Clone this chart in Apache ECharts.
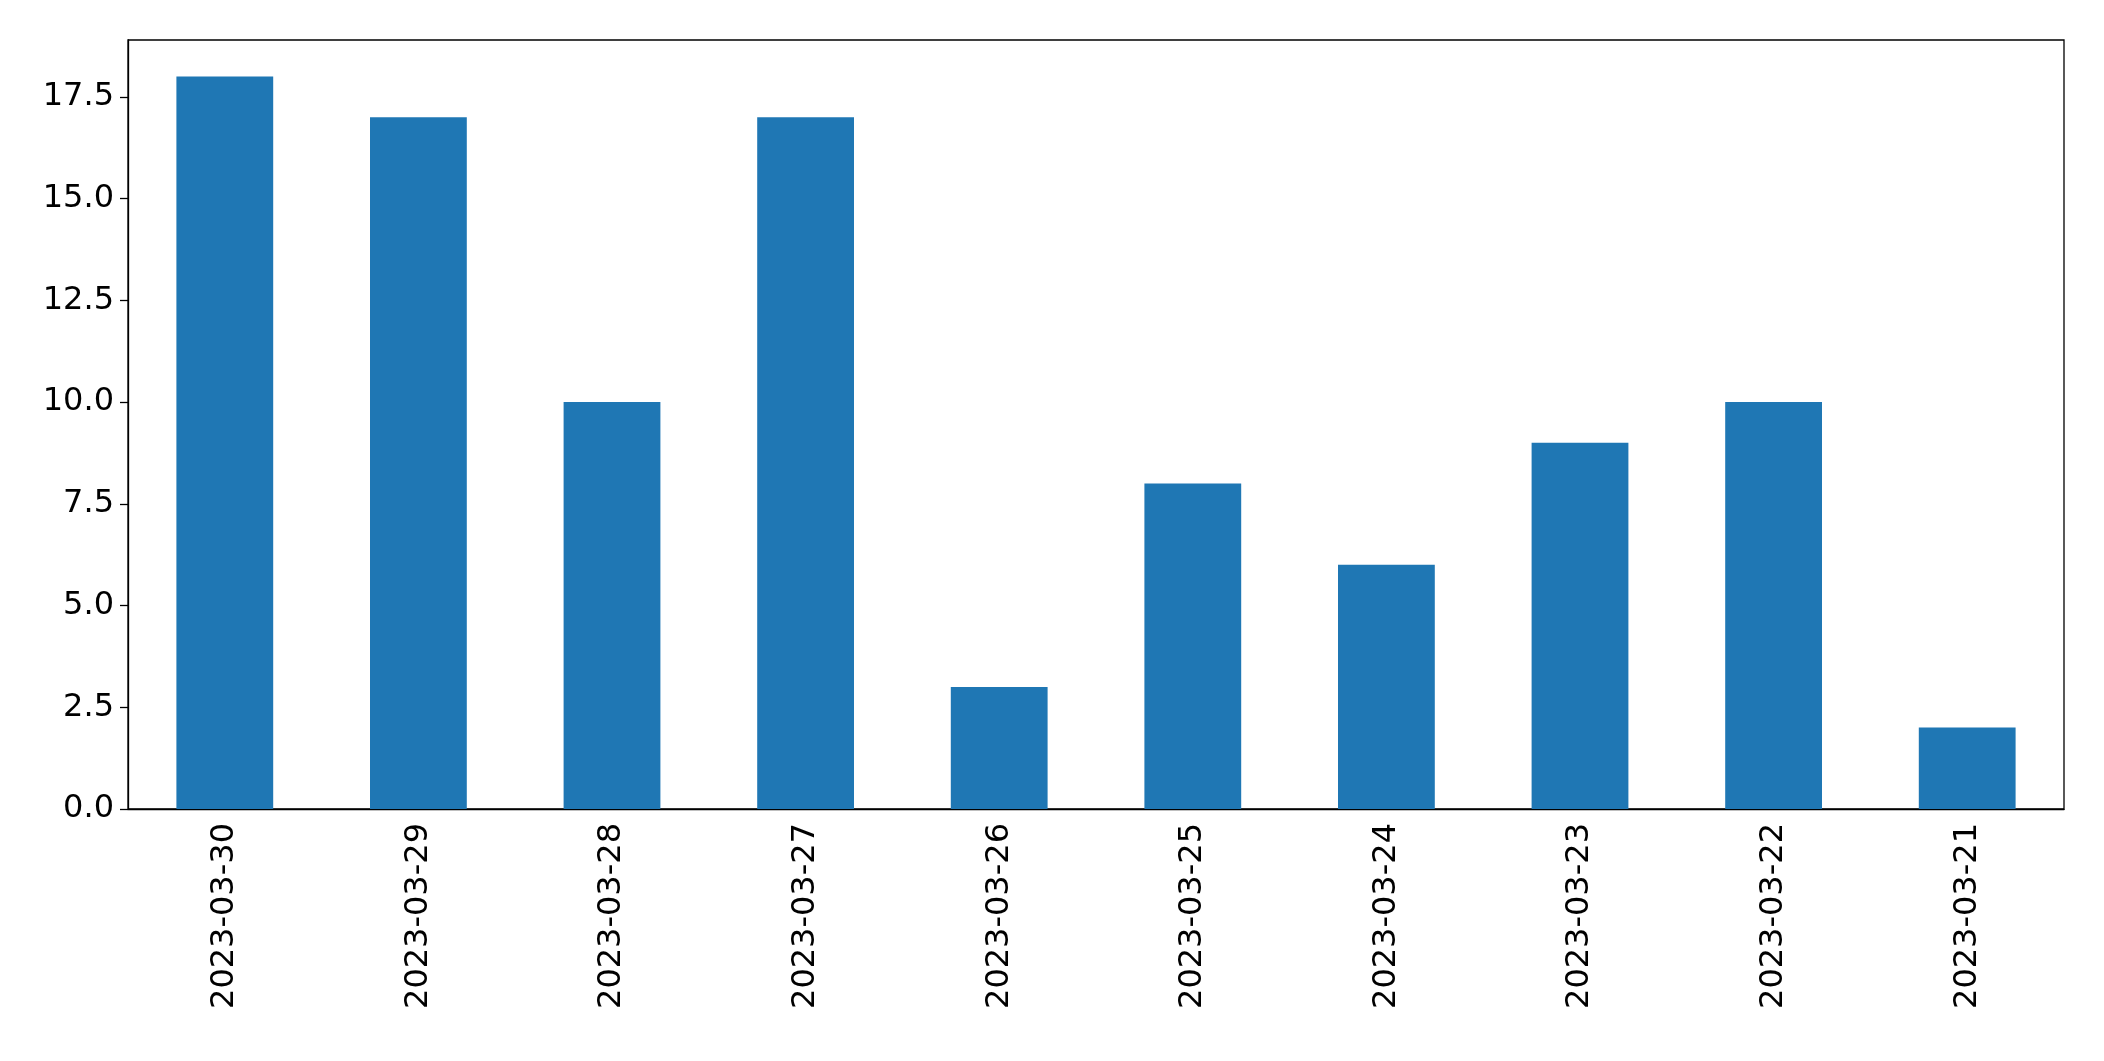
<!DOCTYPE html>
<html><head><meta charset="utf-8">
<script src="https://cdn.jsdelivr.net/npm/echarts@6/dist/echarts.min.js"></script>
<style>html,body{margin:0;padding:0;background:#fff}#c{width:2104px;height:1061px}</style>
</head><body><div id="c"></div>
<script>
const categories = ["2023-03-30","2023-03-29","2023-03-28","2023-03-27","2023-03-26","2023-03-25","2023-03-24","2023-03-23","2023-03-22","2023-03-21"];
const values = [18,17,10,17,3,8,6,9,10,2];
const chart = echarts.init(document.getElementById('c'));
const font = {fontFamily:'DejaVu Sans', fontSize:32, color:'#000'};
chart.setOption({
  animation:false,
  grid:{left:128,right:40,top:40,bottom:252,show:true,borderColor:'#000',borderWidth:1.3,backgroundColor:'transparent'},
  xAxis:{type:'category',data:categories,
    axisLine:{lineStyle:{color:'#000',width:1.3}},
    axisTick:{alignWithLabel:true,length:8,lineStyle:{color:'#000',width:1.3}},
    axisLabel:Object.assign({rotate:90,margin:14,interval:0},font)},
  yAxis:{type:'value',min:0,max:18.9,interval:2.5,
    splitLine:{show:false},
    axisLine:{show:true,lineStyle:{color:'#000',width:1.3}},
    axisTick:{show:true,length:8,lineStyle:{color:'#000',width:1.3}},
    axisLabel:Object.assign({margin:14,showMaxLabel:false,formatter:v=>v.toFixed(1)},font)},
  series:[{type:'bar',data:values,barWidth:'50%',itemStyle:{color:'#1f77b4'}}]
});
</script></body></html>
